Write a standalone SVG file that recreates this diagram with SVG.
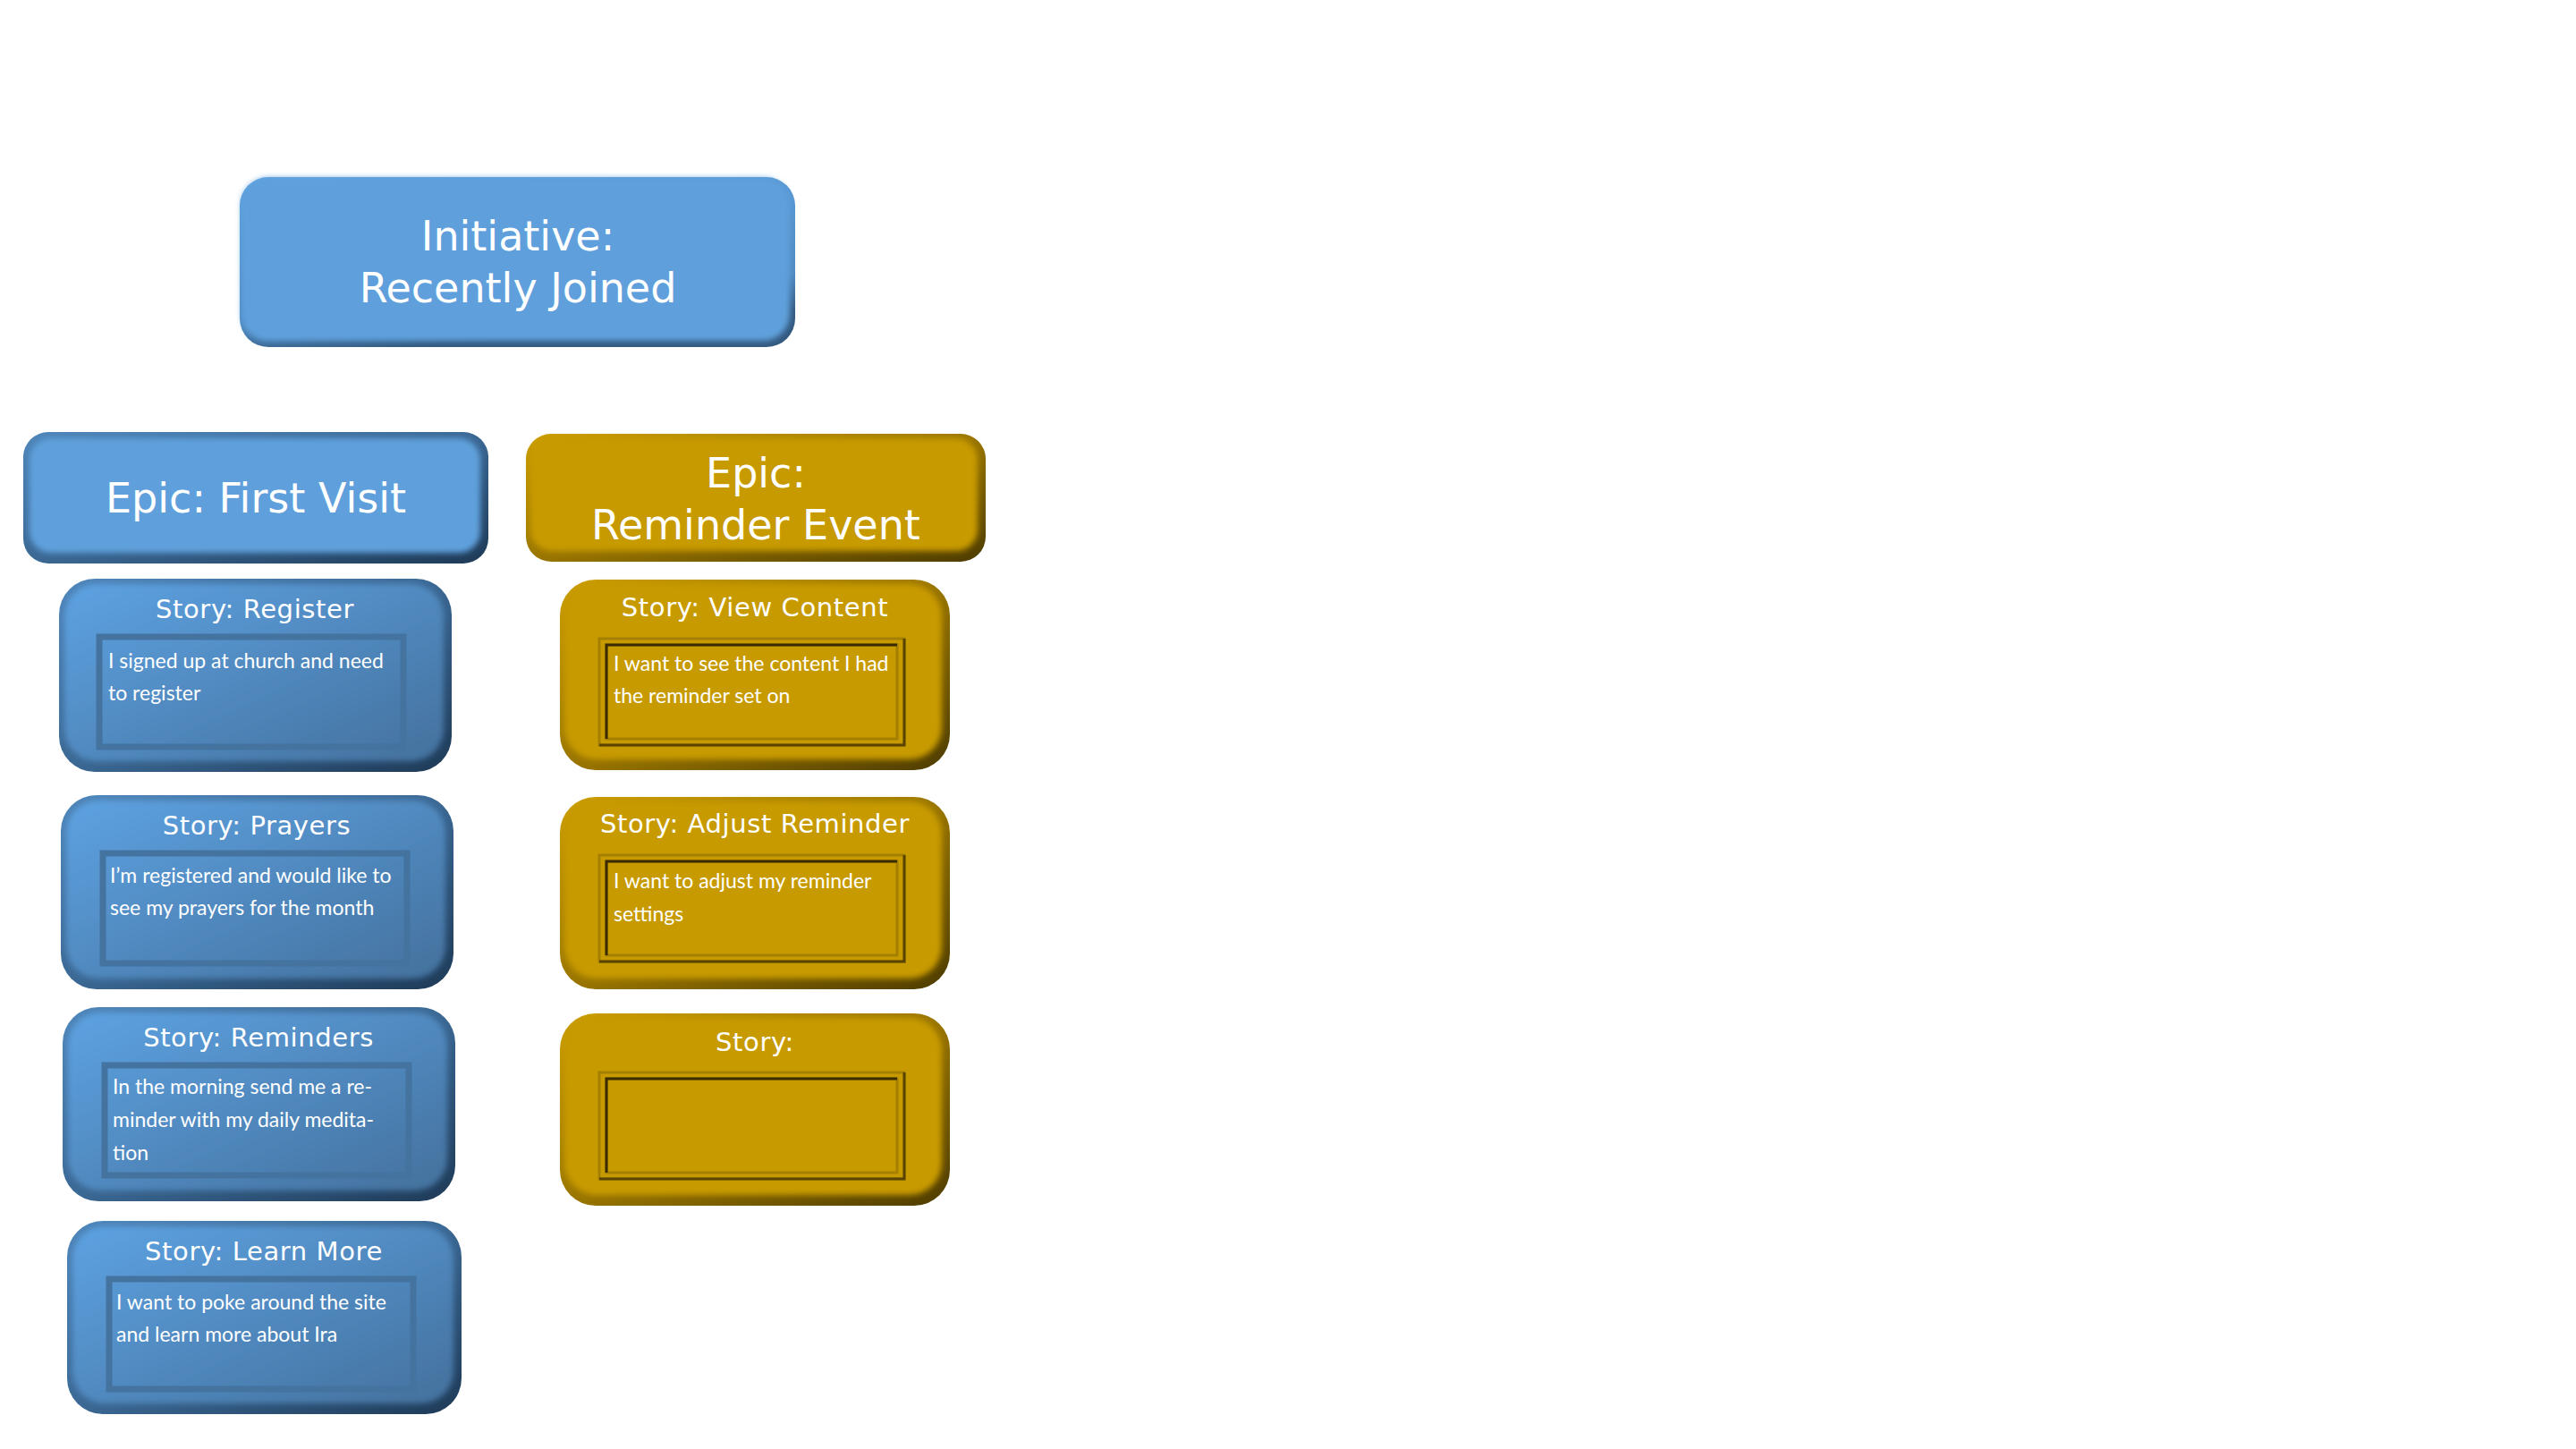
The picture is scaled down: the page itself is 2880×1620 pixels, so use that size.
<svg xmlns="http://www.w3.org/2000/svg" width="2880" height="1620" viewBox="0 0 2880 1620">
<defs>
<linearGradient id="bRim" x1="0" y1="0" x2="1" y2="1"><stop offset="0" stop-color="#4F86BA"/><stop offset="0.5" stop-color="#3B6894"/><stop offset="1" stop-color="#1E3A57"/></linearGradient>
<linearGradient id="bFill" x1="0" y1="0" x2="1" y2="1"><stop offset="0" stop-color="#5DA2E2"/><stop offset="1" stop-color="#44719D"/></linearGradient>
<linearGradient id="gRim" x1="0" y1="0" x2="1" y2="1"><stop offset="0" stop-color="#CC9E00"/><stop offset="0.5" stop-color="#9A7600"/><stop offset="1" stop-color="#4E3C00"/></linearGradient>
<linearGradient id="iRim" x1="0" y1="0" x2="0.3" y2="1"><stop offset="0" stop-color="#5FA3E0"/><stop offset="0.8" stop-color="#4F89C0"/><stop offset="1" stop-color="#33597F"/></linearGradient>
<filter id="soft" x="-5%" y="-5%" width="110%" height="110%"><feGaussianBlur stdDeviation="3"/></filter>
<style>
.t{font-family:"DejaVu Sans","Liberation Sans",sans-serif;fill:#FFFFFF;text-anchor:middle}
.big{font-size:46px}
.st{font-size:29px;letter-spacing:0.6px}
.body{font-family:Lato,"Liberation Sans",sans-serif;font-size:23px;fill:#FFFFFF}
.bfill{fill:url(#bFill)}
.gfill{fill:#C79A00}
.binner{fill:none;stroke:#44739F;stroke-width:7}
</style>
</defs>
<rect width="2880" height="1620" fill="#FFFFFF"/>
<g id="connectors"/>

<g id="initiative">
<rect x="268" y="198" width="621" height="190" rx="32" fill="url(#iRim)"/>
<rect x="270" y="199" width="613" height="182" rx="30" fill="#5FA0DC" filter="url(#soft)"/>
<text class="t big" x="579" y="280">Initiative:</text>
<text class="t big" x="579" y="338">Recently Joined</text>
</g>

<g id="epic-first-visit">
<rect x="26" y="483" width="520" height="147" rx="28" fill="url(#bRim)"/>
<rect x="33" y="490" width="504" height="128" rx="24" fill="#5FA0DC" filter="url(#soft)"/>
<text class="t big" x="286" y="573">Epic: First Visit</text>
</g>

<g id="epic-reminder-event">
<rect x="588" y="485" width="514" height="143" rx="28" fill="url(#gRim)"/>
<rect x="593" y="490" width="500" height="126" rx="24" fill="#C79A00" filter="url(#soft)"/>
<text class="t big" x="845" y="545">Epic:</text>
<text class="t big" x="845" y="603">Reminder Event</text>
</g>

<g id="story-register">
<rect x="66" y="647" width="439" height="216" rx="40" fill="url(#bRim)"/>
<rect x="72" y="653" width="424" height="198" rx="36" class="bfill" filter="url(#soft)"/>
<text class="t st" x="285" y="691">Story: Register</text>
<rect x="111" y="712" width="340" height="123" class="binner"/>
<text class="body" x="121" y="747">I signed up at church and need</text>
<text class="body" x="121" y="783">to register</text>
</g>

<g id="story-prayers">
<rect x="68" y="889" width="439" height="217" rx="40" fill="url(#bRim)"/>
<rect x="74" y="895" width="424" height="199" rx="36" class="bfill" filter="url(#soft)"/>
<text class="t st" x="287" y="933">Story: Prayers</text>
<rect x="115" y="954" width="340" height="123" class="binner"/>
<text class="body" x="123" y="987">I’m registered and would like to</text>
<text class="body" x="123" y="1023">see my prayers for the month</text>
</g>

<g id="story-reminders">
<rect x="70" y="1126" width="439" height="217" rx="40" fill="url(#bRim)"/>
<rect x="76" y="1132" width="424" height="199" rx="36" class="bfill" filter="url(#soft)"/>
<text class="t st" x="289" y="1170">Story: Reminders</text>
<rect x="117" y="1191" width="340" height="123" class="binner"/>
<text class="body" x="126" y="1223">In the morning send me a re-</text>
<text class="body" x="126" y="1260">minder with my daily medita-</text>
<text class="body" x="126" y="1297">tion</text>
</g>

<g id="story-learn-more">
<rect x="75" y="1365" width="441" height="216" rx="40" fill="url(#bRim)"/>
<rect x="81" y="1371" width="426" height="198" rx="36" class="bfill" filter="url(#soft)"/>
<text class="t st" x="295" y="1409">Story: Learn More</text>
<rect x="122" y="1430" width="340" height="123" class="binner"/>
<text class="body" x="130" y="1464">I want to poke around the site</text>
<text class="body" x="130" y="1500">and learn more about Ira</text>
</g>

<g id="story-view-content">
<rect x="626" y="648" width="436" height="213" rx="40" fill="url(#gRim)"/>
<rect x="631" y="653" width="422" height="196" rx="36" class="gfill" filter="url(#soft)"/>
<text class="t st" x="844" y="689">Story: View Content</text>
<rect x="670" y="714" width="341" height="119" fill="none" stroke="#A57F00" stroke-width="3"/>
<path d="M1011,714 V833 H670" fill="none" stroke="#5A4500" stroke-width="3"/>
<rect x="678" y="721" width="325" height="105" fill="none" stroke="#A57F00" stroke-width="3"/>
<path d="M678,826 V721 H1003" fill="none" stroke="#3A2C00" stroke-width="3"/>
<text class="body" x="686" y="750">I want to see the content I had</text>
<text class="body" x="686" y="786">the reminder set on</text>
</g>

<g id="story-adjust-reminder">
<rect x="626" y="891" width="436" height="215" rx="40" fill="url(#gRim)"/>
<rect x="631" y="896" width="422" height="198" rx="36" class="gfill" filter="url(#soft)"/>
<text class="t st" x="844" y="931">Story: Adjust Reminder</text>
<rect x="670" y="956" width="341" height="119" fill="none" stroke="#A57F00" stroke-width="3"/>
<path d="M1011,956 V1075 H670" fill="none" stroke="#5A4500" stroke-width="3"/>
<rect x="678" y="963" width="325" height="105" fill="none" stroke="#A57F00" stroke-width="3"/>
<path d="M678,1068 V963 H1003" fill="none" stroke="#3A2C00" stroke-width="3"/>
<text class="body" x="686" y="993">I want to adjust my reminder</text>
<text class="body" x="686" y="1030">settings</text>
</g>

<g id="story-empty">
<rect x="626" y="1133" width="436" height="215" rx="40" fill="url(#gRim)"/>
<rect x="631" y="1138" width="422" height="198" rx="36" class="gfill" filter="url(#soft)"/>
<text class="t st" x="844" y="1175">Story:</text>
<rect x="670" y="1199" width="341" height="119" fill="none" stroke="#A57F00" stroke-width="3"/>
<path d="M1011,1199 V1318 H670" fill="none" stroke="#5A4500" stroke-width="3"/>
<rect x="678" y="1206" width="325" height="105" fill="none" stroke="#A57F00" stroke-width="3"/>
<path d="M678,1311 V1206 H1003" fill="none" stroke="#3A2C00" stroke-width="3"/>
</g>
</svg>
